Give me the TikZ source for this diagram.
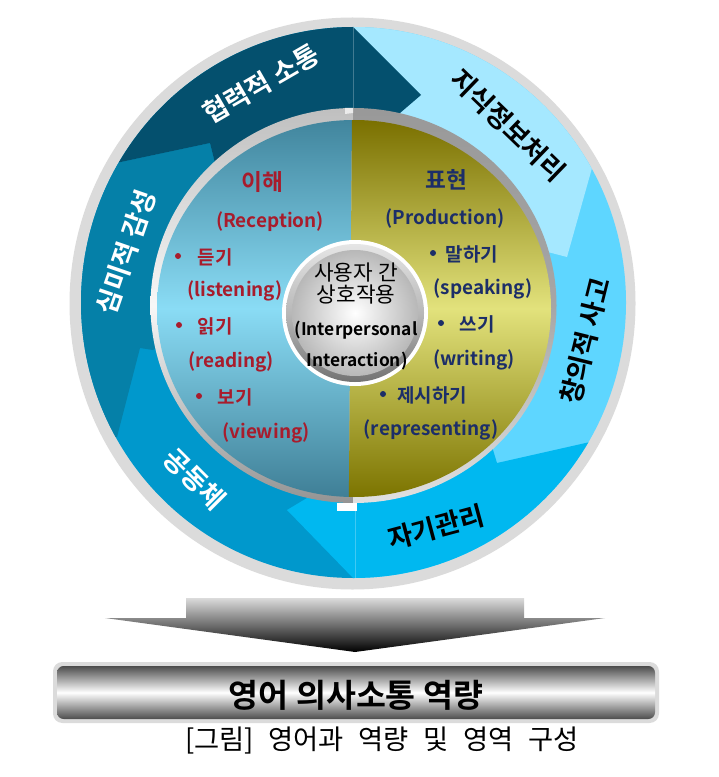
\documentclass[tikz,border=0pt]{standalone}
\usepackage{fontspec}
\setmainfont{Noto Sans CJK KR}[BoldFont={Noto Sans CJK KR Bold}]
\newfontfamily\krb{Noto Sans CJK KR Bold}
\newfontfamily\capfont{Noto Sans CJK KR}[WordSpace=2.4]
\definecolor{cdark}{HTML}{04506E}
\definecolor{cmid}{HTML}{0580A8}
\definecolor{ccom}{HTML}{0098CC}
\definecolor{cself}{HTML}{00B8F0}
\definecolor{ccre}{HTML}{5ED6FF}
\definecolor{cinfo}{HTML}{A5E8FF}
\definecolor{cred}{HTML}{A81C2C}
\definecolor{cnavy}{HTML}{1C2E68}
\definecolor{lefttop}{HTML}{41859D}
\definecolor{leftmid}{HTML}{8ADCF5}
\definecolor{leftbot}{HTML}{3F7F96}
\definecolor{righttop}{HTML}{7A7000}
\definecolor{rightmid}{HTML}{E2E27C}
\definecolor{rightbot}{HTML}{7C7400}
\tikzset{
 ringlabel/.style={font=\krb\fontsize{20}{20}\selectfont,inner sep=0pt},
 redtext/.style={font=\bfseries\fontsize{14.2}{14}\selectfont,text=cred,inner sep=0pt},
 navytext/.style={font=\bfseries\fontsize{14.2}{14}\selectfont,text=cnavy,inner sep=0pt},
 hubtext/.style={font=\bfseries\fontsize{13}{14}\selectfont,text=black,inner sep=0pt},
 seam/.style={draw=white,opacity=.25,line width=.6pt},
}
\begin{document}
\begin{tikzpicture}[x=0.75pt,y=-0.75pt]
\useasboundingbox (0,0) rectangle (718,777);
% outer grey band
\fill[black!14] (352.5,303.5) ellipse[x radius=283,y radius=286];
% arrow band
\begin{scope}
\clip (353.5,302.5) ellipse[x radius=272.5,y radius=275.5];
\fill[ccre] (353,-60) rectangle (720,650);
\fill[ccom] (353,-60) rectangle (0,650);
\fill[cinfo] (353,27) -- (353,-50) -- (667,-99) -- (592,168) -- (567,257) -- (540,250) -- (353,250) -- cycle;
\fill[cself] (497,463) -- (590,442) -- (720,413) -- (720,650) -- (353,650) -- (355,580) -- (287,510) -- (337,480) -- (490,440) -- cycle;
\fill[cmid] (210,143) -- (22,183) -- (-100,183) -- (-100,437) -- (117,437) -- (140,348) -- (153,350) -- (240,300) -- (240,200) -- (215,163) -- cycle;
\fill[cdark] (116,163) -- (210,143) -- (215,163) -- (240,200) -- (353,200) -- (400,113) -- (421,95) -- (353,27) -- (353,-20) -- (0,-20) -- (0,188) -- cycle;
\draw[seam] (353,27) -- (353,108);
\draw[seam] (355,505) -- (355,580);
\end{scope}
% inner ring, two shaded halves
\begin{scope}
\clip (0,0) rectangle (353,600);
\shade[top color=black!25,bottom color=black!42,middle color=black!3] (353.5,305.5) ellipse[x radius=203,y radius=197.5];
\end{scope}
\begin{scope}
\clip (353,0) rectangle (718,600);
\shade[top color=black!40,bottom color=black!12,middle color=black!35] (353.5,305.5) ellipse[x radius=203,y radius=197.5];
\end{scope}
% white tabs where the ring halves start
\fill[black!8] (345,108) -- (353,108) -- (353,113) -- (345,114) -- cycle;
\fill[white] (337,503) -- (357,503) -- (357,511) -- (337,511) -- cycle;
% inner disk halves
\begin{scope}
\clip (353,0) -- (348,600) -- (0,600) -- (0,0) -- cycle;
\shade[top color=lefttop,bottom color=leftbot,middle color=leftmid] (354,308.5) ellipse[x radius=197,y radius=188.5];
\end{scope}
\begin{scope}
\clip (353,0) -- (348,600) -- (718,600) -- (718,0) -- cycle;
\shade[top color=righttop,bottom color=rightbot,middle color=rightmid] (354,308.5) ellipse[x radius=197,y radius=188.5];
\end{scope}
% hub
\fill[white] (355,313) ellipse[x radius=73,y radius=73];
\shade[top color=black!10,bottom color=black!55,middle color=black!28] (355,313) ellipse[x radius=69,y radius=69];
\shade[inner color=white,outer color=black!28] (355,313) ellipse[x radius=63,y radius=63];
% hub text
\node[hubtext,font=\fontsize{16}{16}\selectfont] (h1) at (356,273) {사용자 간};
\node[hubtext,font=\fontsize{16}{16}\selectfont] (h2) at (356,295) {상호작용};
\node[hubtext] (h3) at (356,330) {(Interpersonal};
\node[hubtext] (h4) at (357,361) {Interaction)};
% left column
\node[redtext,font=\bfseries\fontsize{17}{17}\selectfont] (l0) at (262,182) {이해};
\node[redtext] (l1) at (270,222) {(Reception)};
\node[redtext] (l2) at (215,257) {듣기};
\fill[cred] (178,256) circle[radius=3];
\node[redtext] (l3) at (235,291) {(listening)};
\node[redtext] (l4) at (215,326) {읽기};
\fill[cred] (179,325) circle[radius=3];
\node[redtext] (l5) at (231,362) {(reading)};
\node[redtext] (l6) at (235,397) {보기};
\fill[cred] (199,396) circle[radius=3];
\node[redtext] (l7) at (266,433) {(viewing)};
% right column
\node[navytext,font=\bfseries\fontsize{17}{17}\selectfont] (r0) at (446,180) {표현};
\node[navytext] (r1) at (445,219) {(Production)};
\node[navytext] (r2) at (472,254) {말하기};
\fill[cnavy] (433,253) circle[radius=3];
\node[navytext] (r3) at (483,289) {(speaking)};
\node[navytext] (r4) at (477,324) {쓰기};
\fill[cnavy] (441,323) circle[radius=3];
\node[navytext] (r5) at (474,360) {(writing)};
\node[navytext] (r6) at (432,395) {제시하기};
\fill[cnavy] (383,394) circle[radius=3];
\node[navytext] (r7) at (431,430) {(representing)};
% ring labels
\node[ringlabel,text=white,rotate=30] (a1) at (261,84) {협력적 소통};
\node[ringlabel,text=black,rotate=-44] (a2) at (508,125) {지식정보처리};
\node[ringlabel,text=black,rotate=76] (a3) at (585,341) {창의적 사고};
\node[ringlabel,text=black,rotate=15] (a4) at (436,527) {자기관리};
\node[ringlabel,text=white,rotate=-45] (a5) at (195,479) {공동체};
\node[ringlabel,text=white,rotate=71] (a6) at (126,252) {심미적 감성};
% big arrow
\shade[top color=black!14,bottom color=black] (186,598) -- (524,598) -- (524,618) -- (605,618) -- (355,652) -- (105,618) -- (186,618) -- cycle;
% bar
\fill[black!14,rounded corners=7pt] (53,662) rectangle (659,723);
\shade[top color=black!70,bottom color=black!70,middle color=white,rounded corners=5pt] (57,666) rectangle (655,719);
\node[font=\krb\fontsize{24.4}{24}\selectfont,inner sep=0pt] (bar) at (356,695) {영어 의사소통 역량};
\node[font=\capfont\fontsize{20.5}{20}\selectfont,inner sep=0pt] (cap) at (382,741) {[그림] 영어과 역량 및 영역 구성};
\end{tikzpicture}
\end{document}
